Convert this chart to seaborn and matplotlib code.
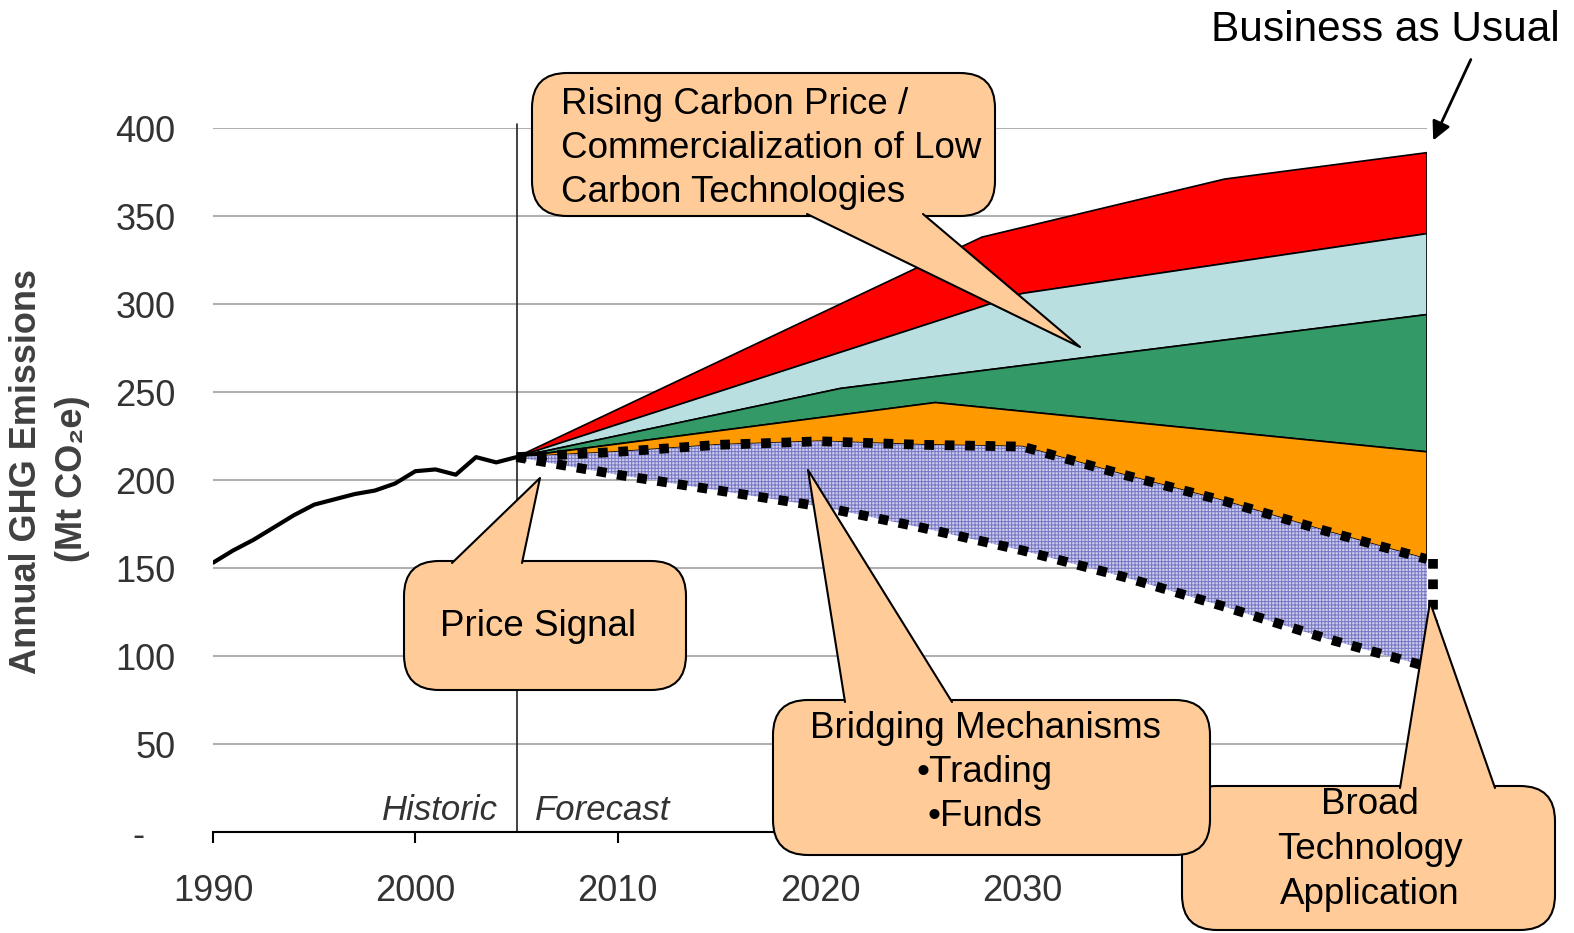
import numpy as np
import matplotlib
matplotlib.use('Agg')
import matplotlib.pyplot as plt
import seaborn as sns
from matplotlib import font_manager as fm
from matplotlib.patches import FancyBboxPatch, Polygon

# historic emissions (Mt CO2e)
hist_years = list(range(1990, 2006))
hist_ghg = [153, 160, 166, 173, 180, 186, 189, 192, 194, 198, 205, 206, 203, 213, 210, 213]

# forecast band edges
bau_years = [2005, 2028, 2040, 2050]
bau_ghg = [213, 338, 371, 386]
lblue_years = [2005, 2030, 2050]
lblue_ghg = [213, 306, 340]
green_years = [2005, 2021, 2050]
green_ghg = [213, 252, 294]
orange_years = [2005, 2025.7, 2050]
orange_ghg = [213, 244, 216]

dot_years = [2005, 2010, 2015, 2020, 2025, 2030, 2035, 2040, 2045, 2050]
dot_upper = [213, 216, 220, 222, 220, 219, 203, 188, 171, 155]
dot_lower = [213, 203, 194, 185, 173, 160, 145, 128, 110, 94]

band_colors = ['#FF0000', '#B9DFE1', '#339966', '#FF9900']
peach = '#FFCC99'

x_ticks = [1990, 2000, 2010, 2020, 2030, 2040, 2050]
x_labels = ['1990', '2000', '2010', '2020', '2030', '', '']  # 2040/2050 sit under the callout
y_ticks = [0, 50, 100, 150, 200, 250, 300, 350, 400]
y_labels = ['-   ', '50', '100', '150', '200', '250', '300', '350', '400']

sns.set_theme(style='white')
names = {f.name for f in fm.fontManager.ttflist}
NARROW = 'Liberation Sans Narrow' if 'Liberation Sans Narrow' in names else 'Liberation Sans'
plt.rcParams['font.family'] = ['Liberation Sans', 'DejaVu Sans']
plt.rcParams['hatch.linewidth'] = 0.7

W, H = 1574, 933
fig = plt.figure(figsize=(W / 100, H / 100), dpi=100)
ax = fig.add_axes([213 / W, 1 - 832 / H, (1427 - 213) / W, (832 - 128) / H])

# bands
def band(xt, yt, xb, yb, **kw):
    xs = list(xt) + list(xb)[::-1]
    ys = list(yt) + list(yb)[::-1]
    ax.fill(xs, ys, **kw)

band(bau_years, bau_ghg, lblue_years, lblue_ghg, fc=band_colors[0], ec='black', lw=1.2, zorder=3)
band(lblue_years, lblue_ghg, green_years, green_ghg, fc=band_colors[1], ec='black', lw=1.2, zorder=3)
band(green_years, green_ghg, orange_years, orange_ghg, fc=band_colors[2], ec='black', lw=1.2, zorder=3)
band(orange_years, orange_ghg, dot_years, dot_upper, fc=band_colors[3], ec='black', lw=1.2, zorder=3)
band(dot_years, dot_upper, dot_years, dot_lower, fc='#CACAEC', ec='none', zorder=3)
band(dot_years, dot_upper, dot_years, dot_lower, fc='none', ec='#7676C2', lw=0, hatch='+++++', zorder=3)

dot_kw = dict(color='black', lw=7, linestyle=(0, (1, 1.1)), dash_capstyle='butt', zorder=5)
ax.plot(dot_years, dot_upper, **dot_kw)
ax.plot(dot_years, dot_lower, **dot_kw)
ax.plot([2050.3, 2050.3], [dot_upper[-1], 118], clip_on=False, **dot_kw)

# historic line
sns.lineplot(x=hist_years, y=hist_ghg, color='black', lw=3, ax=ax, zorder=4)
ax.plot([2005, 2005], [0, 402], color='#222222', lw=1.2, clip_on=False, zorder=2)

ax.set_xlim(1990, 2050)
ax.set_ylim(0, 400)
ax.set_xticks(x_ticks)
ax.set_xticklabels(x_labels, fontsize=26, color='#333333', family=NARROW)
ax.set_yticks(y_ticks)
ax.set_yticklabels(y_labels, fontsize=26, color='#333333', family=NARROW)
ax.tick_params(axis='x', direction='out', length=8, width=1.5, color='black', pad=22, bottom=True)
ax.tick_params(axis='y', length=0, pad=27)
ax.grid(axis='y', color='#B0B0B0', lw=1.5)
ax.grid(axis='x', visible=False)
ax.set_axisbelow(True)
for s in ['left', 'right', 'top']:
    ax.spines[s].set_visible(False)
ax.spines['bottom'].set_color('black')
ax.spines['bottom'].set_linewidth(1.5)
ax.set_xlabel('')
ax.set_ylabel('')

ax.text(2004.1, 3, 'Historic', ha='right', va='bottom', style='italic', fontsize=25,
        color='#333333', family=NARROW)
ax.text(2005.9, 3, 'Forecast', ha='left', va='bottom', style='italic', fontsize=25,
        color='#333333', family=NARROW)

fig.text(27 / W, 1 - 471 / H, 'Annual GHG Emissions', rotation=90, ha='center', va='center',
         fontsize=26, fontweight='bold', color='#404040')
fig.text(72 / W, 1 - 479 / H, '(Mt CO₂e)', rotation=90, ha='center', va='center',
         fontsize=26, fontweight='bold', color='#404040')

# overlay in pixel coordinates for callouts
ov = fig.add_axes([0, 0, 1, 1], zorder=10)
ov.set_xlim(0, W)
ov.set_ylim(H, 0)
ov.axis('off')
ov.patch.set_visible(False)


def callout(x0, y0, x1, y1, b0, b1, tip, r=35):
    ov.add_patch(FancyBboxPatch((x0, y0), x1 - x0, y1 - y0,
                                boxstyle=f'round,pad=0,rounding_size={r}',
                                fc=peach, ec='black', lw=1.5))
    ov.add_patch(Polygon([b0, tip, b1], closed=True, fc=peach, ec='none'))
    ov.plot([b0[0], tip[0], b1[0]], [b0[1], tip[1], b1[1]], color='black', lw=1.5)


callout(532, 73, 995, 216, (807, 214), (923, 214), (1080, 347))
for i, line in enumerate(['Rising Carbon Price /', 'Commercialization of Low', 'Carbon Technologies']):
    ov.text(561, 104 + 44 * i, line, ha='left', va='center', fontsize=26.5, color='black')

callout(404, 561, 686, 690, (452, 563), (522, 563), (540, 478))
ov.text(538, 627, 'Price Signal', ha='center', va='center', fontsize=26.5, color='black')

callout(1182, 786, 1555, 930, (1400, 788), (1495, 788), (1430, 602))
for i, line in enumerate(['Broad', 'Technology', 'Application']):
    ov.text(1370, 805 + 44.5 * i, line, ha='center', va='center', fontsize=26.5, color='black')

callout(773, 700, 1210, 855, (845, 702), (952, 702), (808, 470))
for i, line in enumerate(['Bridging Mechanisms', '•Trading', '•Funds']):
    ov.text(985, 729 + 44 * i, line, ha='center', va='center', fontsize=26.5, color='black')

ov.text(1385, 30, 'Business as Usual', ha='center', va='center', fontsize=30.5, color='black')
ov.annotate('', xy=(1432, 143), xytext=(1472, 57),
            arrowprops=dict(arrowstyle='-|>', color='black', lw=2, mutation_scale=28))

fig.savefig('out.png', dpi=100)
